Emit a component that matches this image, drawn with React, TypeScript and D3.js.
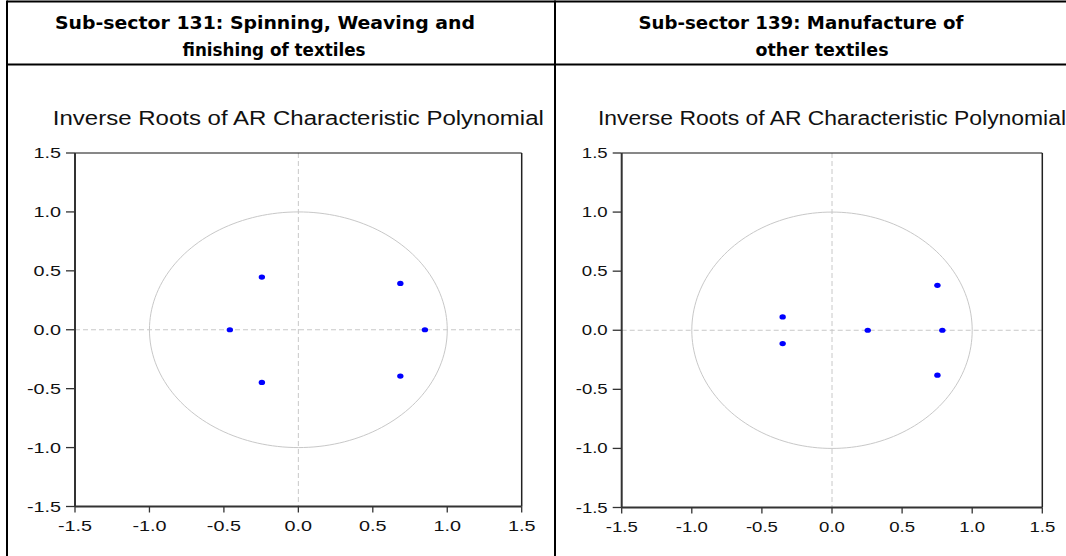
import React from "react";
import * as d3 from "d3";

const tickValues = [-1.5, -1.0, -0.5, 0.0, 0.5, 1.0, 1.5];
const headerLeft = ["Sub-sector 131: Spinning, Weaving and", "finishing of textiles"];
const headerRight = ["Sub-sector 139: Manufacture of", "other textiles"];
const chartTitle = "Inverse Roots of AR Characteristic Polynomial";

const leftRe = [-0.46, -0.245, -0.245, 0.685, 0.685, 0.85];
const leftIm = [0.0, 0.447, -0.447, 0.393, -0.393, 0.0];
const rightRe = [-0.352, -0.352, 0.255, 0.787, 0.752, 0.752];
const rightIm = [0.113, -0.113, 0.0, 0.0, 0.38, -0.38];

type PanelProps = {
  x0: number; x1: number; y0: number; y1: number;
  re: number[]; im: number[]; sx: number; titleW: number;
};

function Panel({ x0, x1, y0, y1, re, im, sx, titleW }: PanelProps) {
  const xs = d3.scaleLinear().domain([-1.5, 1.5]).range([x0, x1]);
  const ys = d3.scaleLinear().domain([-1.5, 1.5]).range([y1, y0]);
  const circle = d3.range(0, 361, 2).map((a) => [Math.cos((a * Math.PI) / 180), Math.sin((a * Math.PI) / 180)] as [number, number]);
  const line = d3.line<[number, number]>().x((d) => xs(d[0])).y((d) => ys(d[1]));
  const font = "'Liberation Sans', Arial, sans-serif";
  const cx = (x0 + x1) / 2;
  return (
    <g>
      <text x={cx} y={125} textAnchor="middle" fontFamily={font} fontSize={20} fill="#111"
        textLength={titleW} lengthAdjust="spacingAndGlyphs">{chartTitle}</text>
      <line x1={xs(0)} x2={xs(0)} y1={y0} y2={y1} stroke="#c8c8c8" strokeWidth={1} strokeDasharray="5,3" />
      <line x1={x0} x2={x1} y1={ys(0)} y2={ys(0)} stroke="#c8c8c8" strokeWidth={1} strokeDasharray="5,3" />
      <path d={line(circle) || ""} fill="none" stroke="#c8c8c8" strokeWidth={1} />
      <line x1={x0} x2={x1} y1={y0} y2={y0} stroke="#111" strokeWidth={1} />
      <line x1={x1} x2={x1} y1={y0} y2={y1} stroke="#222" strokeWidth={1.5} />
      <line x1={x0} x2={x0} y1={y0} y2={y1} stroke="#333" strokeWidth={2} />
      <line x1={x0} x2={x1} y1={y1} y2={y1} stroke="#333" strokeWidth={2} />
      {tickValues.map((t) => (
        <g key={"y" + t}>
          <line x1={x0 - 9} x2={x0} y1={ys(t)} y2={ys(t)} stroke="#333" strokeWidth={1.3} />
          <text transform={`translate(${x0 - 14},${ys(t) + 5}) scale(${sx},1)`} textAnchor="end"
            fontFamily={font} fontSize={15} fill="#111">{t.toFixed(1)}</text>
        </g>
      ))}
      {tickValues.map((t) => (
        <g key={"x" + t}>
          <line x1={xs(t)} x2={xs(t)} y1={y1} y2={y1 + 6} stroke="#333" strokeWidth={1.3} />
          <text transform={`translate(${xs(t)},${y1 + 24}) scale(${sx},1)`} textAnchor="middle"
            fontFamily={font} fontSize={15} fill="#111">{t.toFixed(1)}</text>
        </g>
      ))}
      {re.map((r, i) => (
        <ellipse key={i} cx={xs(r)} cy={ys(im[i])} rx={3.2} ry={2.6} fill="#0000ff" />
      ))}
    </g>
  );
}

export default function App() {
  const hfont = "'DejaVu Sans', Verdana, sans-serif";
  return (
    <svg width={1066} height={556} style={{ position: "absolute", left: 0, top: 0, background: "#fff" }}>
      <rect x={0} y={0} width={1066} height={556} fill="#fff" />
      <line x1={7} x2={1066} y1={1.5} y2={1.5} stroke="#000" strokeWidth={2} />
      <line x1={7} x2={1066} y1={64.5} y2={64.5} stroke="#000" strokeWidth={2} />
      <line x1={7} x2={7} y1={0.5} y2={556} stroke="#000" strokeWidth={2} />
      <line x1={555} x2={555} y1={0.5} y2={556} stroke="#000" strokeWidth={2} />
      <text x={265} y={29} textAnchor="middle" fontFamily={hfont} fontWeight="bold" fontSize={18.5}
        textLength={420} lengthAdjust="spacingAndGlyphs">{headerLeft[0]}</text>
      <text x={274} y={56} textAnchor="middle" fontFamily={hfont} fontWeight="bold" fontSize={18.5}
        textLength={183} lengthAdjust="spacingAndGlyphs">{headerLeft[1]}</text>
      <text x={801} y={29} textAnchor="middle" fontFamily={hfont} fontWeight="bold" fontSize={18.5}
        textLength={325} lengthAdjust="spacingAndGlyphs">{headerRight[0]}</text>
      <text x={822} y={56} textAnchor="middle" fontFamily={hfont} fontWeight="bold" fontSize={18.5}
        textLength={133} lengthAdjust="spacingAndGlyphs">{headerRight[1]}</text>
      <Panel x0={75} x1={521.7} y0={153} y1={506.5} re={leftRe} im={leftIm} sx={1.32} titleW={491} />
      <Panel x0={621.7} x1={1042.3} y0={153} y1={507.5} re={rightRe} im={rightIm} sx={1.24} titleW={468} />
    </svg>
  );
}
